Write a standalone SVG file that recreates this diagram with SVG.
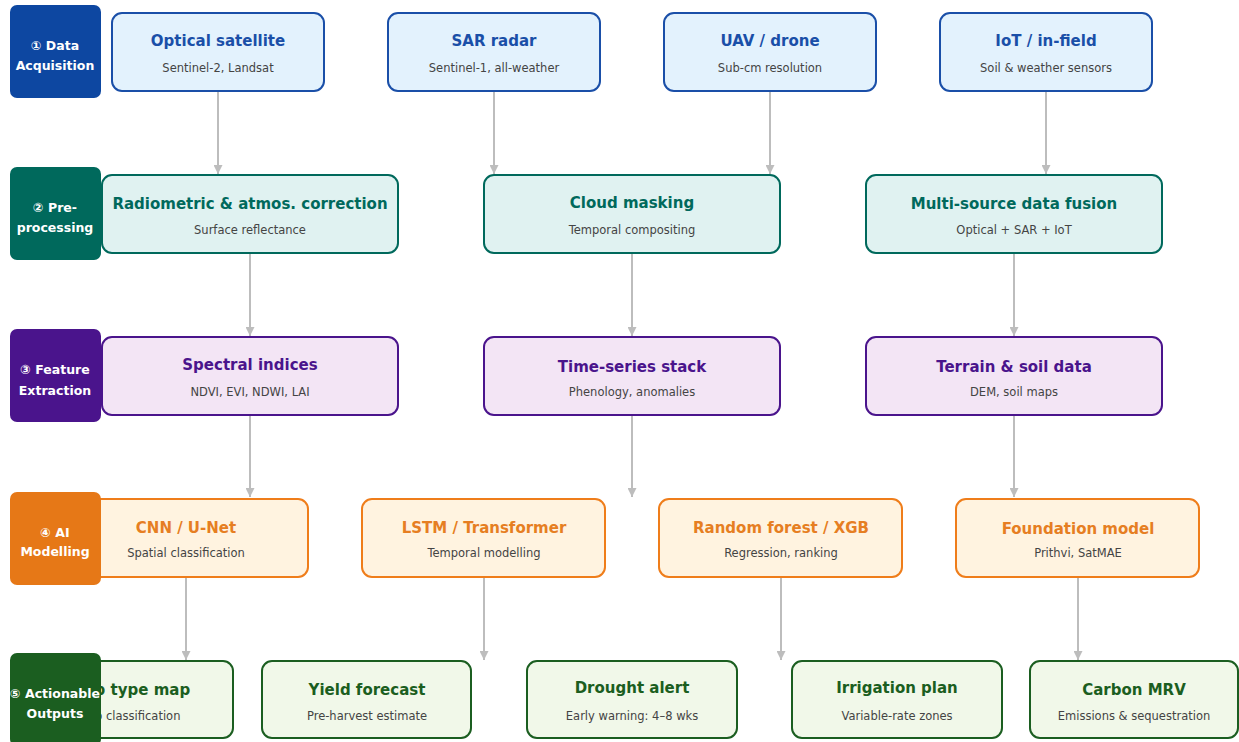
<svg xmlns="http://www.w3.org/2000/svg" width="1239" height="742" viewBox="0 0 1239 742">
<defs>
<marker id="arr" viewBox="0 0 10 10" refX="10" refY="5" markerWidth="10" markerHeight="9" markerUnits="userSpaceOnUse" orient="auto">
<path d="M0,0 L10,5 L0,10 Z" fill="#BDBDBD"/>
</marker>
</defs>
<style>
text{font-family:"DejaVu Sans","Liberation Sans",sans-serif;text-anchor:middle;dominant-baseline:central}
.t{font-size:15px;font-weight:bold}
.s{font-size:11.5px;fill:#444}
.b{font-size:12.5px;font-weight:bold;fill:#fff}
.n{stroke-width:2}
.r1 rect{fill:#E3F2FD;stroke:#1A4FA8}.r1 .t{fill:#1A4FA8}
.r2 rect{fill:#E0F2F1;stroke:#00695C}.r2 .t{fill:#00695C}
.r3 rect{fill:#F3E5F5;stroke:#4A148C}.r3 .t{fill:#4A148C}
.r4 rect{fill:#FFF3E0;stroke:#EF7D1A}.r4 .t{fill:#E67E22}
.r5 rect{fill:#F1F8E9;stroke:#1B5E20}.r5 .t{fill:#1B5E20}
.c line{stroke:#BDBDBD;stroke-width:2;marker-end:url(#arr)}
</style>
<rect width="1239" height="742" fill="#fff"/>
<g id="connectors" class="c">
<line x1="218" y1="92" x2="218" y2="174"/>
<line x1="494" y1="92" x2="494" y2="174"/>
<line x1="770" y1="92" x2="770" y2="174"/>
<line x1="1046" y1="92" x2="1046" y2="174"/>
<line x1="250" y1="254" x2="250" y2="336"/>
<line x1="632" y1="254" x2="632" y2="336"/>
<line x1="1014" y1="254" x2="1014" y2="336"/>
<line x1="250" y1="416" x2="250" y2="497"/>
<line x1="632" y1="416" x2="632" y2="497"/>
<line x1="1014" y1="416" x2="1014" y2="497"/>
<line x1="186" y1="578" x2="186" y2="660"/>
<line x1="484" y1="578" x2="484" y2="660"/>
<line x1="781" y1="578" x2="781" y2="660"/>
<line x1="1078" y1="578" x2="1078" y2="660"/>
</g>
<g class="r1">
<g id="n-optical"><rect class="n" x="112" y="13" width="212" height="78" rx="10"/><text class="t" x="218" y="41">Optical satellite</text><text class="s" x="218" y="68">Sentinel-2, Landsat</text></g>
<g id="n-sar"><rect class="n" x="388" y="13" width="212" height="78" rx="10"/><text class="t" x="494" y="41">SAR radar</text><text class="s" x="494" y="68">Sentinel-1, all-weather</text></g>
<g id="n-uav"><rect class="n" x="664" y="13" width="212" height="78" rx="10"/><text class="t" x="770" y="41">UAV / drone</text><text class="s" x="770" y="68">Sub-cm resolution</text></g>
<g id="n-iot"><rect class="n" x="940" y="13" width="212" height="78" rx="10"/><text class="t" x="1046" y="41">IoT / in-field</text><text class="s" x="1046" y="68">Soil &amp; weather sensors</text></g>
</g>
<g class="r2">
<g id="n-radiometric"><rect class="n" x="102" y="175" width="296" height="78" rx="10"/><text class="t" x="250" y="204">Radiometric &amp; atmos. correction</text><text class="s" x="250" y="230">Surface reflectance</text></g>
<g id="n-cloud"><rect class="n" x="484" y="175" width="296" height="78" rx="10"/><text class="t" x="632" y="203">Cloud masking</text><text class="s" x="632" y="230">Temporal compositing</text></g>
<g id="n-fusion"><rect class="n" x="866" y="175" width="296" height="78" rx="10"/><text class="t" x="1014" y="204">Multi-source data fusion</text><text class="s" x="1014" y="230">Optical + SAR + IoT</text></g>
</g>
<g class="r3">
<g id="n-spectral"><rect class="n" x="102" y="337" width="296" height="78" rx="10"/><text class="t" x="250" y="365">Spectral indices</text><text class="s" x="250" y="392">NDVI, EVI, NDWI, LAI</text></g>
<g id="n-timeseries"><rect class="n" x="484" y="337" width="296" height="78" rx="10"/><text class="t" x="632" y="367">Time-series stack</text><text class="s" x="632" y="392">Phenology, anomalies</text></g>
<g id="n-terrain"><rect class="n" x="866" y="337" width="296" height="78" rx="10"/><text class="t" x="1014" y="367">Terrain &amp; soil data</text><text class="s" x="1014" y="392">DEM, soil maps</text></g>
</g>
<g class="r4">
<g id="n-cnn"><rect class="n" x="65" y="499" width="243" height="78" rx="10"/><text class="t" x="186" y="528">CNN / U-Net</text><text class="s" x="186" y="553">Spatial classification</text></g>
<g id="n-lstm"><rect class="n" x="362" y="499" width="243" height="78" rx="10"/><text class="t" x="484" y="528">LSTM / Transformer</text><text class="s" x="484" y="553">Temporal modelling</text></g>
<g id="n-rf"><rect class="n" x="659" y="499" width="243" height="78" rx="10"/><text class="t" x="781" y="528">Random forest / XGB</text><text class="s" x="781" y="553">Regression, ranking</text></g>
<g id="n-foundation"><rect class="n" x="956" y="499" width="243" height="78" rx="10"/><text class="t" x="1078" y="529">Foundation model</text><text class="s" x="1078" y="553">Prithvi, SatMAE</text></g>
</g>
<g class="r5">
<g id="n-croptype"><rect class="n" x="23" y="661" width="210" height="77" rx="10"/><text class="t" x="128" y="690">Crop type map</text><text class="s" x="128" y="716">Crop classification</text></g>
<g id="n-yield"><rect class="n" x="262" y="661" width="209" height="77" rx="10"/><text class="t" x="367" y="690">Yield forecast</text><text class="s" x="367" y="716">Pre-harvest estimate</text></g>
<g id="n-drought"><rect class="n" x="527" y="661" width="210" height="77" rx="10"/><text class="t" x="632" y="688">Drought alert</text><text class="s" x="632" y="716">Early warning: 4–8 wks</text></g>
<g id="n-irrigation"><rect class="n" x="792" y="661" width="210" height="77" rx="10"/><text class="t" x="897" y="688">Irrigation plan</text><text class="s" x="897" y="716">Variable-rate zones</text></g>
<g id="n-carbon"><rect class="n" x="1030" y="661" width="208" height="77" rx="10"/><text class="t" x="1134" y="690">Carbon MRV</text><text class="s" x="1134" y="716">Emissions &amp; sequestration</text></g>
</g>
<g id="badge-1"><rect x="10" y="5" width="91" height="93" rx="7" fill="#0D47A1"/><text class="b" x="55" y="45">① Data</text><text class="b" x="55" y="65">Acquisition</text></g>
<g id="badge-2"><rect x="10" y="167" width="91" height="93" rx="7" fill="#00695C"/><text class="b" x="55" y="207">② Pre-</text><text class="b" x="55" y="227">processing</text></g>
<g id="badge-3"><rect x="10" y="329" width="91" height="93" rx="7" fill="#4A148C"/><text class="b" x="55" y="369">③ Feature</text><text class="b" x="55" y="390">Extraction</text></g>
<g id="badge-4"><rect x="10" y="492" width="91" height="93" rx="7" fill="#E67817"/><text class="b" x="55" y="532">④ AI</text><text class="b" x="55" y="551">Modelling</text></g>
<g id="badge-5"><rect x="10" y="653" width="91" height="93" rx="7" fill="#1B5E20"/><text class="b" x="55" y="693">⑤ Actionable</text><text class="b" x="55" y="713">Outputs</text></g>
</svg>
